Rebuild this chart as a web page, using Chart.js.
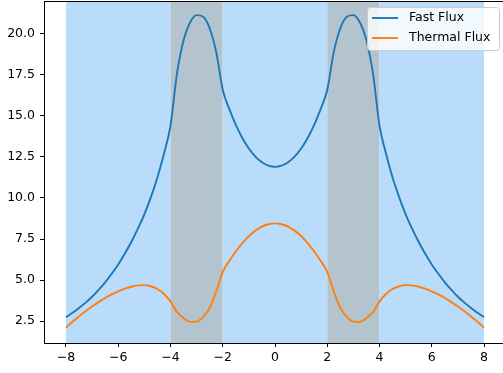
<!DOCTYPE html>
<html>
<head>
<meta charset="utf-8">
<script src="https://cdn.jsdelivr.net/npm/chart.js@4/dist/chart.umd.min.js"></script>
<style>
  html, body { margin: 0; padding: 0; overflow: hidden; background: #fff; }
  #wrap { position: relative; width: 506px; height: 373px; }
</style>
</head>
<body>
<div id="wrap"><canvas id="flux" width="506" height="373"></canvas></div>
<script>
// positions along the slab
const positions = [
  -8, -7.75, -7.5, -7.25, -7, -6.75, -6.5, -6.25, -6, -5.75, -5.5, -5.25, -5, -4.75, -4.5, -4.25, -4,
  -3.75, -3.5, -3.25, -3, -2.75, -2.5, -2.25, -2,
  -1.75, -1.5, -1.25, -1, -0.75, -0.5, -0.25, 0,
  0.25, 0.5, 0.75, 1, 1.25, 1.5, 1.75, 2,
  2.25, 2.5, 2.75, 3, 3.25, 3.5, 3.75, 4,
  4.25, 4.5, 4.75, 5, 5.25, 5.5, 5.75, 6, 6.25, 6.5, 6.75, 7, 7.25, 7.5, 7.75, 8
];

const fastFlux = [
  2.74, 3.0, 3.3, 3.62, 3.98, 4.4, 4.86, 5.38, 5.95, 6.6, 7.32, 8.12, 9.0, 10.05, 11.25, 12.7, 14.4,
  17.6, 19.6, 20.7, 21.15, 21.05, 20.35, 18.9, 16.6,
  15.43, 14.46, 13.66, 13.02, 12.52, 12.18, 11.97, 11.9,
  11.97, 12.18, 12.52, 13.02, 13.66, 14.46, 15.43, 16.6,
  18.9, 20.35, 21.05, 21.15, 20.7, 19.6, 17.6, 14.4,
  12.7, 11.25, 10.05, 9.0, 8.12, 7.32, 6.6, 5.95, 5.38, 4.86, 4.4, 3.98, 3.62, 3.3, 3.0, 2.74
];

const thermalFlux = [
  2.1, 2.45, 2.78, 3.09, 3.38, 3.65, 3.9, 4.12, 4.31, 4.47, 4.59, 4.67, 4.69, 4.62, 4.45, 4.15, 3.7,
  3.05, 2.68, 2.45, 2.46, 2.75, 3.3, 4.3, 5.5,
  6.16, 6.74, 7.25, 7.68, 8.01, 8.26, 8.4, 8.45,
  8.4, 8.26, 8.01, 7.68, 7.25, 6.74, 6.16, 5.5,
  4.3, 3.3, 2.75, 2.46, 2.45, 2.68, 3.05, 3.7,
  4.15, 4.45, 4.62, 4.69, 4.67, 4.59, 4.47, 4.31, 4.12, 3.9, 3.65, 3.38, 3.09, 2.78, 2.45, 2.1
];

// shaded regions: boundaries and which kind each one is
const regionEdges = [-8, -4, -2, 2, 4, 8];
const regionKinds = ['light', 'dark', 'light', 'dark', 'light'];

const xTicks = [-8, -6, -4, -2, 0, 2, 4, 6, 8];
const xTickLabels = ['\u22128', '\u22126', '\u22124', '\u22122', '0', '2', '4', '6', '8'];
const yTicks = [2.5, 5.0, 7.5, 10.0, 12.5, 15.0, 17.5, 20.0];
const yTickLabels = ['2.5', '5.0', '7.5', '10.0', '12.5', '15.0', '17.5', '20.0'];

const FONT = { family: '"DejaVu Sans", sans-serif', size: 12.5 };
const regionColors = { light: '#b9dcfb', dark: '#b4c4cf' };

// fond colorido por região
const regionsPlugin = {
  id: 'regions',
  beforeDatasetsDraw(chart) {
    const { ctx, chartArea, scales } = chart;
    ctx.save();
    for (let i = 0; i < regionKinds.length; i++) {
      const x0 = scales.x.getPixelForValue(regionEdges[i]);
      const x1 = scales.x.getPixelForValue(regionEdges[i + 1]);
      ctx.fillStyle = regionColors[regionKinds[i]];
      ctx.fillRect(x0, chartArea.top, x1 - x0, chartArea.bottom - chartArea.top);
    }
    ctx.restore();
  }
};

// moldura + legenda no canto superior direito
const frameLegendPlugin = {
  id: 'frameLegend',
  afterDraw(chart) {
    const { ctx, chartArea } = chart;
    ctx.save();
    ctx.strokeStyle = '#000';
    ctx.lineWidth = 1;
    ctx.strokeRect(chartArea.left + 0.5, chartArea.top + 0.5,
      chartArea.right - chartArea.left - 1, chartArea.bottom - chartArea.top);

    const w = 132, h = 43;
    const bx = chartArea.right - 7 - w;
    const by = chartArea.top + 6;
    ctx.beginPath();
    ctx.roundRect(bx + 0.5, by + 0.5, w, h, 3);
    ctx.fillStyle = 'rgba(255,255,255,0.8)';
    ctx.fill();
    ctx.strokeStyle = '#cccccc';
    ctx.stroke();

    ctx.font = `${FONT.size}px ${FONT.family}`;
    ctx.textBaseline = 'middle';
    chart.data.datasets.forEach((ds, i) => {
      const y = by + 11 + i * 20;
      ctx.strokeStyle = ds.borderColor;
      ctx.lineWidth = 1.9;
      ctx.beginPath();
      ctx.moveTo(bx + 5, y);
      ctx.lineTo(bx + 31, y);
      ctx.stroke();
      ctx.fillStyle = '#000';
      ctx.fillText(ds.label, bx + 42, y);
    });
    ctx.restore();
  }
};

const toPoints = vals => positions.map((x, i) => ({ x, y: vals[i] }));

new Chart(document.getElementById('flux'), {
  type: 'line',
  data: {
    datasets: [
      {
        label: 'Fast Flux',
        data: toPoints(fastFlux),
        borderColor: '#1f77b4',
        borderWidth: 1.9,
        pointRadius: 0,
        cubicInterpolationMode: 'monotone'
      },
      {
        label: 'Thermal Flux',
        data: toPoints(thermalFlux),
        borderColor: '#ff7f0e',
        borderWidth: 1.9,
        pointRadius: 0,
        cubicInterpolationMode: 'monotone'
      }
    ]
  },
  options: {
    responsive: false,
    animation: false,
    layout: { padding: { top: 1, right: 0, left: 0, bottom: 0 } },
    plugins: {
      legend: { display: false },
      tooltip: { enabled: false }
    },
    scales: {
      x: {
        type: 'linear',
        min: -8.84,
        max: 8.84,
        afterFit(scale) {
          scale.height = 30;
          scale.paddingLeft = 0;
          scale.paddingRight = 0;
        },
        afterBuildTicks(scale) { scale.ticks = xTicks.map(v => ({ value: v })); },
        grid: { drawOnChartArea: false, drawTicks: true, tickLength: 4, color: '#000' },
        border: { display: true, color: '#000', width: 1 },
        ticks: {
          font: FONT,
          color: '#000',
          padding: 3,
          maxRotation: 0,
          callback: (v) => xTickLabels[xTicks.indexOf(v)]
        }
      },
      y: {
        min: 1.16,
        max: 22.01,
        afterFit(scale) {
          scale.width = 44;
          scale.paddingTop = 0;
          scale.paddingBottom = 0;
        },
        afterBuildTicks(scale) { scale.ticks = yTicks.map(v => ({ value: v })); },
        grid: { drawOnChartArea: false, drawTicks: true, tickLength: 4, color: '#000' },
        border: { display: true, color: '#000', width: 1 },
        ticks: {
          font: FONT,
          color: '#000',
          padding: 5,
          callback: (v) => yTickLabels[yTicks.indexOf(v)]
        }
      }
    }
  },
  plugins: [regionsPlugin, frameLegendPlugin]
});
</script>
</body>
</html>
